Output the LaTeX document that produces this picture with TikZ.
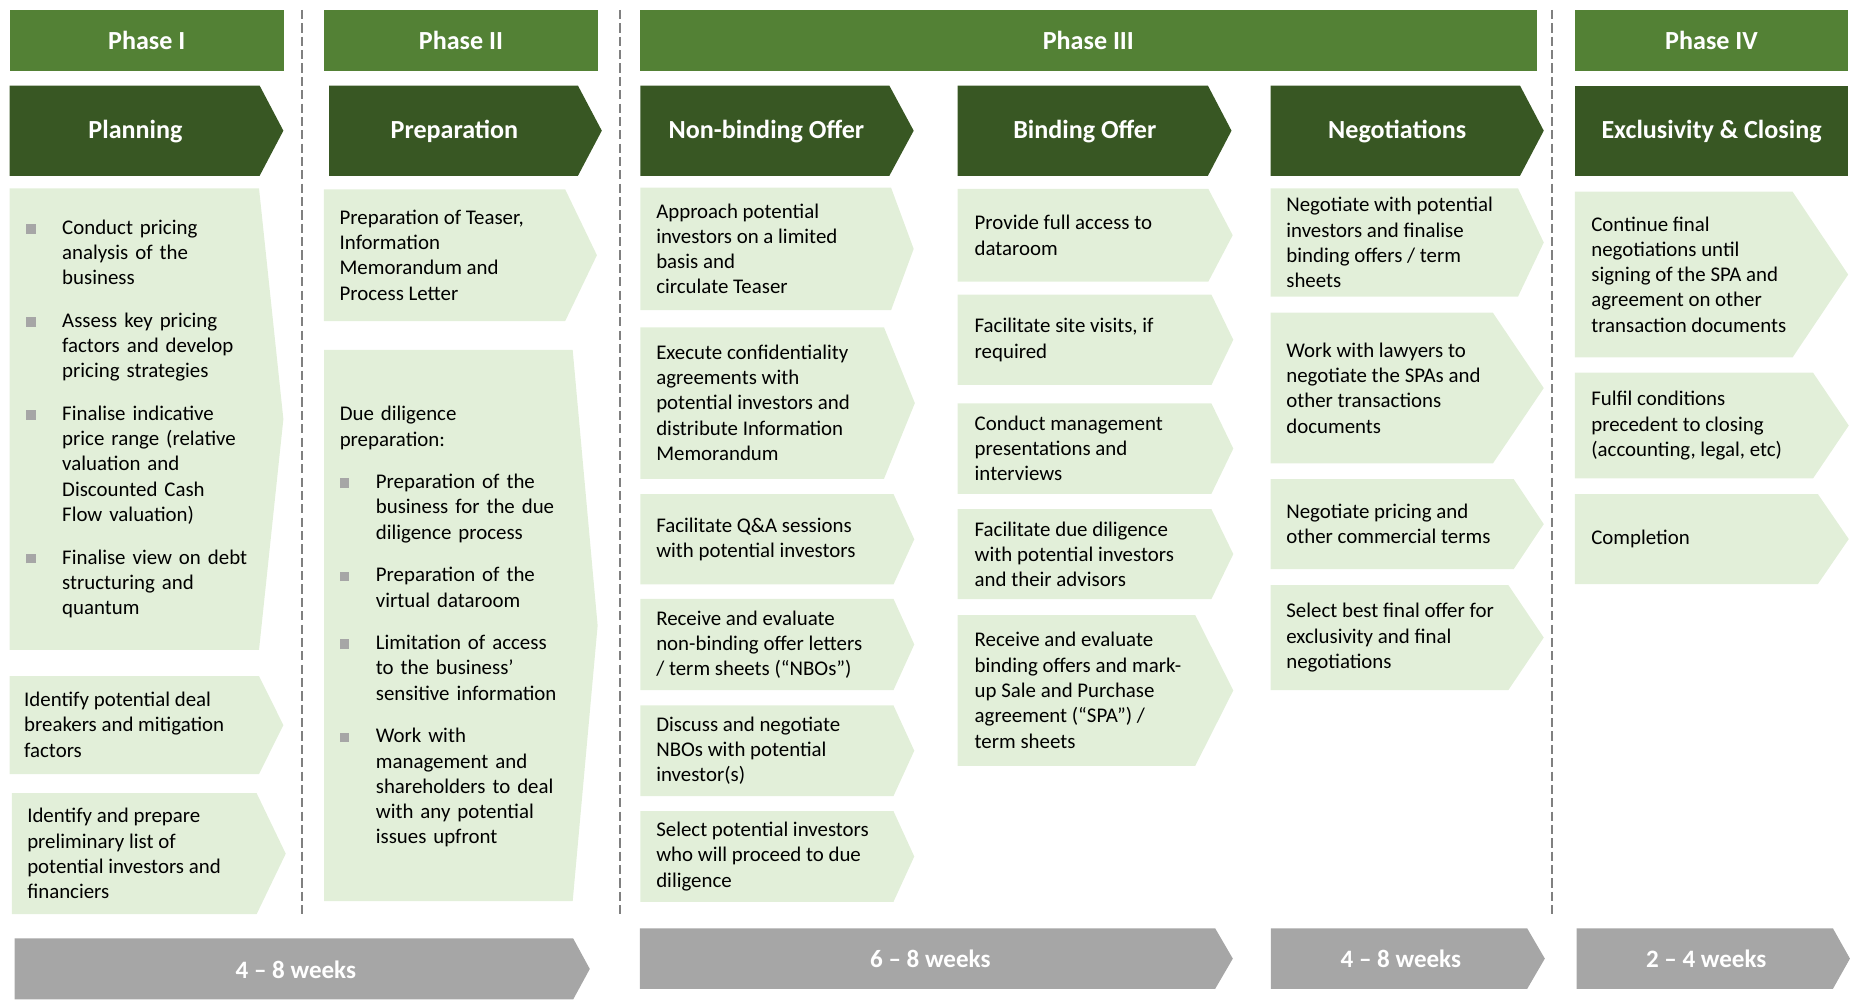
\documentclass[tikz,border=0pt]{standalone}
\usepackage{fontspec}
\setmainfont{Carlito}
\definecolor{phasegreen}{HTML}{538135}
\definecolor{stepgreen}{HTML}{385723}
\definecolor{taskgreen}{HTML}{E2EFD9}
\definecolor{weekgray}{HTML}{A6A6A6}
\definecolor{bulletgray}{HTML}{A6A6A6}
\definecolor{rulegray}{HTML}{808080}
\newlength\bulind
\setlength\bulind{17.3pt}
\def\chevron[#1](#2,#3)(#4,#5)(#6){\fill[#1] (#2,#3) -- (#4,#3) -- (#6,{(#3+#5)/2}) -- (#4,#5) -- (#2,#5) -- cycle;}
\def\bmark{\noindent\hangindent=\bulind\hangafter=1\makebox[\bulind][l]{\textcolor{bulletgray}{\rule[0.3pt]{4.6pt}{4.6pt}}}}
\def\bitem{\par\bmark}

\begin{document}
\begin{tikzpicture}[x=0.02cm, y=-0.02cm,
		phase/.style={text=white, inner sep=0pt, font=\fontsize{12.5}{15}\selectfont\bfseries},
		weeks/.style={text=white, inner sep=0pt, font=\fontsize{12}{14}\selectfont\bfseries},
		task/.style={anchor=west, align=left, inner sep=0pt, font=\fontsize{10}{12.1}\selectfont},
		tasklist/.style={task, text width=#1, font={\fontsize{10}{12.1}\selectfont\setlength{\parskip}{8.3pt}}},
		divider/.style={rulegray, line width=1pt, dash pattern=on 4.4pt off 2pt}]
			%%%%% START %%%%%
			
			\useasboundingbox (0,0) rectangle (1568,846);
			
			\fill[phasegreen] (8,8.4) rectangle (239,59.8);
			\node[phase] (ph1) at (123.5,34) {Phase I};
			\fill[phasegreen] (272.5,8.4) rectangle (503.5,59.8);
			\node[phase] (ph2) at (388,34) {Phase II};
			\fill[phasegreen] (539,8.4) rectangle (1293.5,59.8);
			\node[phase] (ph3) at (916,34) {Phase III};
			\fill[phasegreen] (1325.5,8.4) rectangle (1555.5,59.8);
			\node[phase] (ph4) at (1440.5,34) {Phase IV};
			
			\draw[divider] (254.5,8.4) -- (254.5,771);
			\draw[divider] (522,8.4) -- (522,771);
			\draw[divider] (1306.6,8.4) -- (1306.6,771);
			
			\chevron[stepgreen](8,72)(218.5,148)(238.5)
			\node[phase] (plan) at (114,110.5) {Planning};
			\chevron[stepgreen](277,72)(486.4,148)(506.5)
			\node[phase] (prep) at (382.5,110.5) {Preparation};
			\chevron[stepgreen](539,72)(748.5,148)(769)
			\node[phase] (nonbind) at (645,110.5) {Non-binding Offer};
			\chevron[stepgreen](806,72)(1016.6,148)(1036.5)
			\node[phase] (bind) at (913,110.5) {Binding Offer};
			\chevron[stepgreen](1069.5,72)(1279.3,148)(1299.3)
			\node[phase] (nego) at (1176,110.5) {Negotiations};
			\fill[stepgreen] (1325.5,72) rectangle (1555.5,148);
			\node[phase] (excl) at (1440.5,110.5) {Exclusivity \& Closing};
			
			% Planning
			\chevron[taskgreen](8,158.5)(218,547)(238.5)
			\node[tasklist=118pt] (planlist) at (21.6,352.5) {\bmark Conduct pricing\newline analysis of the\newline business \bitem Assess key pricing\newline factors and develop\newline pricing strategies \bitem Finalise indicative\newline price range (relative\newline valuation and\newline Discounted Cash\newline Flow valuation) \bitem Finalise view on debt\newline structuring and\newline quantum\par};
			\chevron[taskgreen](8,569)(218,651.5)(238.5)
			\node[task] (dealbreak) at (20,610) {Identify potential deal\\breakers and mitigation\\factors};
			\chevron[taskgreen](10,667.6)(216,769.4)(240.5)
			\node[task] (investlist) at (22.6,718.5) {Identify and prepare\\preliminary list of\\potential investors and\\financiers};
			
			% Preparation
			\chevron[taskgreen](272.5,159.4)(475.7,270.2)(502.4)
			\node[task] (teaser) at (285.5,214.8) {Preparation of Teaser,\\Information\\Memorandum and\\Process Letter};
			\chevron[taskgreen](272.7,294.5)(482,758.5)(503)
			\node[tasklist=118pt] (ddprep) at (285.6,527.5) {\noindent Due diligence\newline preparation: \bitem Preparation of the\newline business for the due\newline diligence process \bitem Preparation of the\newline virtual dataroom \bitem Limitation of access\newline to the business’\newline sensitive information \bitem Work with\newline management and\newline shareholders to deal\newline with any potential\newline issues upfront\par};
			
			% Non-binding Offer
			\chevron[taskgreen](539,158)(750,261)(769)
			\node[task] (approach) at (552,209.5) {Approach potential\\investors on a limited\\basis and\\circulate Teaser};
			\chevron[taskgreen](539,275.5)(744,403)(770)
			\node[task] (confid) at (552,339) {Execute confidentiality\\agreements with\\potential investors and\\distribute Information\\Memorandum};
			\chevron[taskgreen](539,415.8)(752,491.9)(769.5)
			\node[task] (qanda) at (552,454) {Facilitate Q\&A sessions\\with potential investors};
			\chevron[taskgreen](539,504)(752,580.8)(769.5)
			\node[task] (nbo) at (552,542.4) {Receive and evaluate\\non-binding offer letters\\/ term sheets (“NBOs”)};
			\chevron[taskgreen](539,593.7)(752,670)(769.5)
			\node[task] (nbodisc) at (552,631.9) {Discuss and negotiate\\NBOs with potential\\investor(s)};
			\chevron[taskgreen](539,682.7)(752,759)(769.5)
			\node[task] (selinv) at (552,720.9) {Select potential investors\\who will proceed to due\\diligence};
			
			% Binding Offer
			\chevron[taskgreen](806,159)(1017,237)(1037.5)
			\node[task] (dataroom) at (820,198) {Provide full access to\\dataroom};
			\chevron[taskgreen](806,248)(1019.6,324)(1038)
			\node[task] (sitevisit) at (820,286) {Facilitate site visits, if\\required};
			\chevron[taskgreen](806,339.5)(1019.6,415.6)(1038)
			\node[task] (mgmt) at (820,377.5) {Conduct management\\presentations and\\interviews};
			\chevron[taskgreen](806,428.5)(1019.6,504.2)(1038)
			\node[task] (ddfac) at (820,466.4) {Facilitate due diligence\\with potential investors\\and their advisors};
			\chevron[taskgreen](806,517.7)(1006,644.5)(1038)
			\node[task] (spa) at (820,581) {Receive and evaluate\\binding offers and mark-\\up Sale and Purchase\\agreement (“SPA”) /\\term sheets};
			
			% Negotiations
			\chevron[taskgreen](1069.5,158.5)(1277.6,249.7)(1299.3)
			\node[task] (negfin) at (1082.3,204.1) {Negotiate with potential\\investors and finalise\\binding offers / term\\sheets};
			\chevron[taskgreen](1069.5,263.2)(1256.5,390)(1299.3)
			\node[task] (lawyers) at (1082.3,326.6) {Work with lawyers to\\negotiate the SPAs and\\other transactions\\documents};
			\chevron[taskgreen](1069.5,403.2)(1274,479)(1299.3)
			\node[task] (negprice) at (1082.3,441.1) {Negotiate pricing and\\other commercial terms};
			\chevron[taskgreen](1069.5,492.4)(1269.5,580.8)(1299.3)
			\node[task] (bestoffer) at (1082.3,536.6) {Select best final offer for\\exclusivity and final\\negotiations};
			
			% Exclusivity & Closing
			\chevron[taskgreen](1325.5,161.3)(1508.7,300.8)(1555.5)
			\node[task] (contfinal) at (1339,231) {Continue final\\negotiations until\\signing of the SPA and\\agreement on other\\transaction documents};
			\chevron[taskgreen](1325.5,313.7)(1526,402.6)(1556)
			\node[task] (fulfil) at (1339,358.2) {Fulfil conditions\\precedent to closing\\(accounting, legal, etc)};
			\chevron[taskgreen](1325.5,415.8)(1530,491.6)(1556)
			\node[task] (compl) at (1339,453.7) {Completion};
			
			% timing
			\chevron[weekgray](12.3,789.8)(482.4,841.2)(496.4)
			\node[weeks] (wk1) at (249,816) {4 -- 8 weeks};
			\chevron[weekgray](538.6,781.4)(1022.8,832.2)(1037.6)
			\node[weeks] (wk2) at (783,807.3) {6 -- 8 weeks};
			\chevron[weekgray](1069.7,781.4)(1285.4,832.2)(1300.2)
			\node[weeks] (wk3) at (1179,807.3) {4 -- 8 weeks};
			\chevron[weekgray](1326.9,781.4)(1542.7,832.2)(1557)
			\node[weeks] (wk4) at (1436,807.3) {2 -- 4 weeks};
			
			%%%%% END %%%%%
		\end{tikzpicture}
\end{document}
